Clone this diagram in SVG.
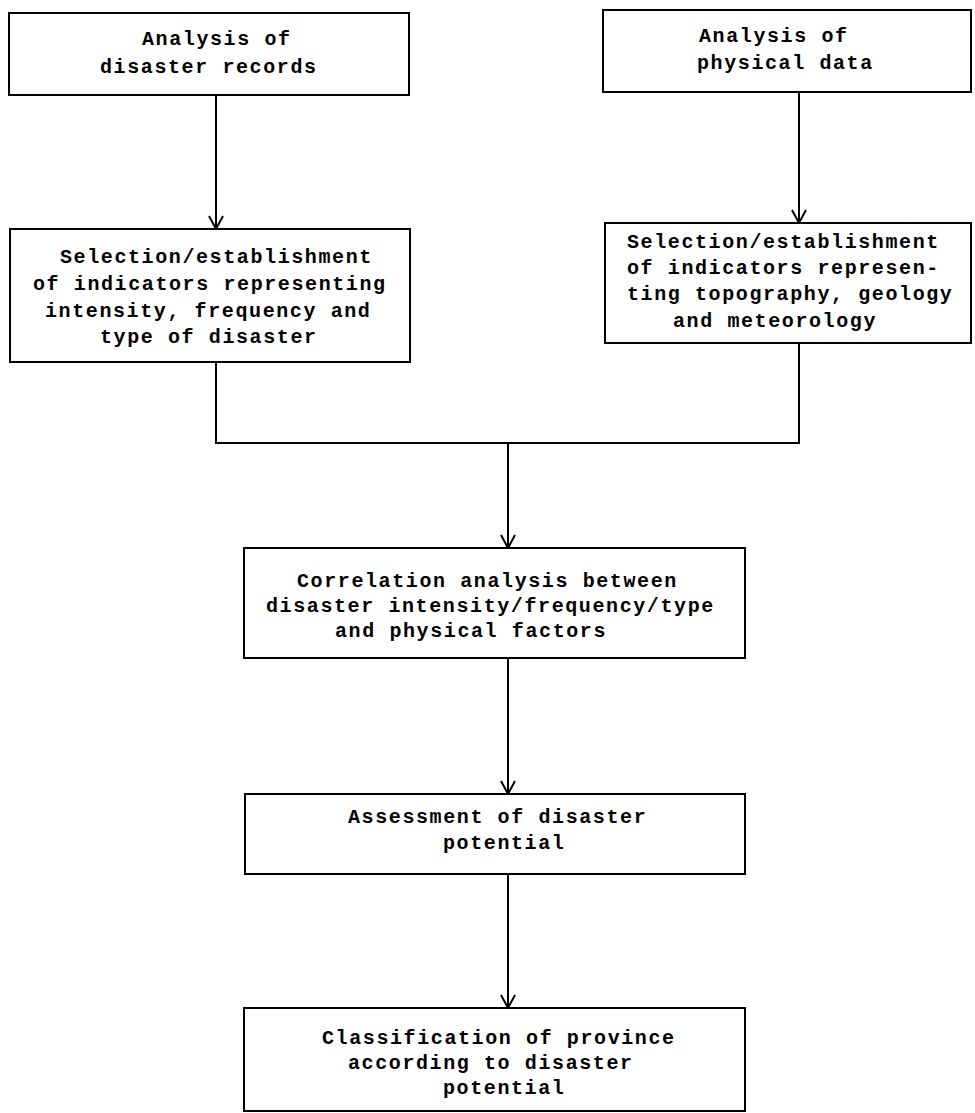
<svg xmlns="http://www.w3.org/2000/svg" width="975" height="1113" viewBox="0 0 975 1113">
<defs>
<style>
.box{fill:#fff;stroke:#000;stroke-width:2}
.t{font-family:"Liberation Mono","DejaVu Sans Mono",monospace;font-size:20px;font-weight:bold;letter-spacing:1.6px;fill:#000}
.c{fill:none;stroke:#000;stroke-width:2}
.ah{fill:none;stroke:#000;stroke-width:2}
</style>
</defs>
<rect width="975" height="1113" fill="#fff"/>
<g id="connectors">
<line class="c" x1="216" y1="95" x2="216" y2="229"/>
<path class="ah" d="M209,216 L216,229 L223,216"/>
<line class="c" x1="799" y1="92" x2="799" y2="223"/>
<path class="ah" d="M792,210 L799,223 L806,210"/>
<polyline class="c" points="216,362 216,443 799,443 799,343"/>
<line class="c" x1="508" y1="443" x2="508" y2="548"/>
<path class="ah" d="M501,535 L508,548 L515,535"/>
<line class="c" x1="508" y1="658" x2="508" y2="794"/>
<path class="ah" d="M501,781 L508,794 L515,781"/>
<line class="c" x1="508" y1="874" x2="508" y2="1008"/>
<path class="ah" d="M501,995 L508,1008 L515,995"/>
</g>
<g id="n1">
<rect class="box" x="9" y="13" width="400" height="82"/>
<text class="t" x="142" y="45">Analysis of</text>
<text class="t" x="100" y="73">disaster records</text>
</g>
<g id="n2">
<rect class="box" x="603" y="10" width="368" height="82"/>
<text class="t" x="699" y="42">Analysis of</text>
<text class="t" x="697" y="69">physical data</text>
</g>
<g id="n3">
<rect class="box" x="10" y="229" width="400" height="133"/>
<text class="t" x="60" y="263">Selection/establishment</text>
<text class="t" x="33" y="290">of indicators representing</text>
<text class="t" x="45" y="317">intensity, frequency and</text>
<text class="t" x="100" y="343">type of disaster</text>
</g>
<g id="n4">
<rect class="box" x="605" y="223" width="366" height="120"/>
<text class="t" x="627" y="248">Selection/establishment</text>
<text class="t" x="627" y="274">of indicators represen-</text>
<text class="t" x="627" y="300">ting topography, geology</text>
<text class="t" x="673" y="327">and meteorology</text>
</g>
<g id="n5">
<rect class="box" x="244" y="548" width="501" height="110"/>
<text class="t" x="297" y="587">Correlation analysis between</text>
<text class="t" x="266" y="612">disaster intensity/frequency/type</text>
<text class="t" x="335" y="637">and physical factors</text>
</g>
<g id="n6">
<rect class="box" x="245" y="794" width="500" height="80"/>
<text class="t" x="348" y="823">Assessment of disaster</text>
<text class="t" x="443" y="849">potential</text>
</g>
<g id="n7">
<rect class="box" x="244" y="1008" width="501" height="103"/>
<text class="t" x="322" y="1044">Classification of province</text>
<text class="t" x="348" y="1069">according to disaster</text>
<text class="t" x="443" y="1094">potential</text>
</g>
</svg>
